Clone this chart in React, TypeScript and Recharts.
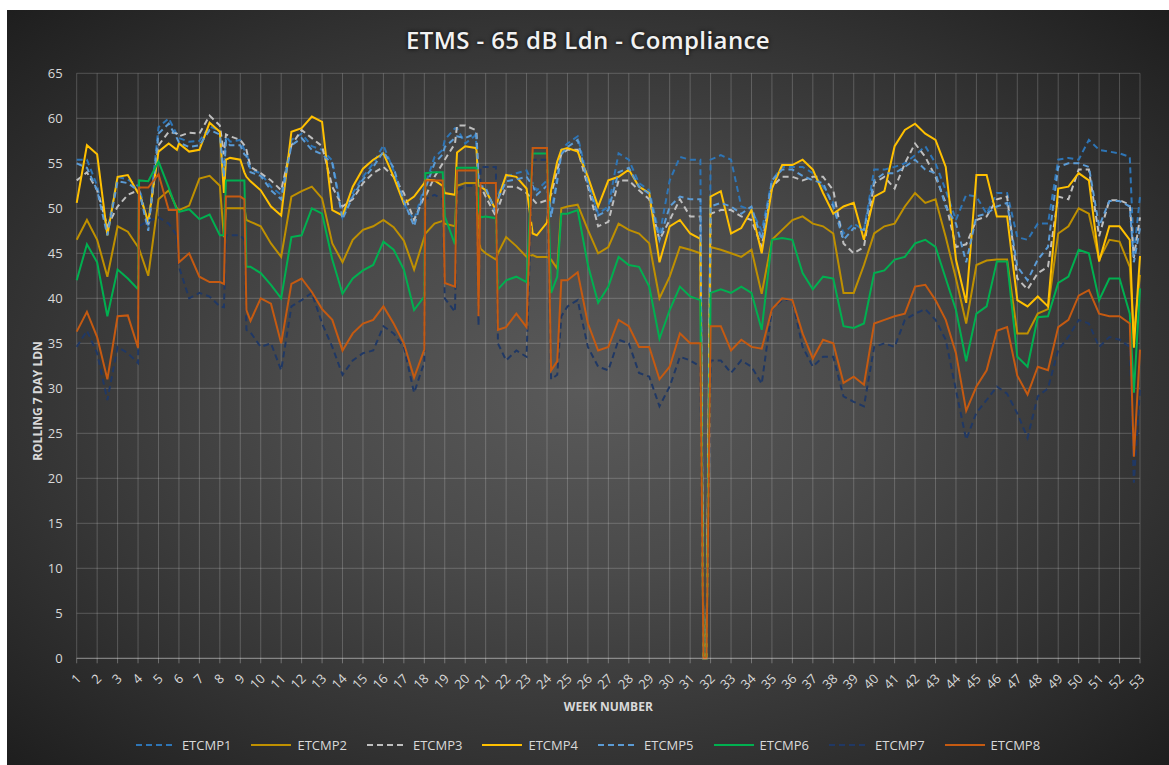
import React from 'react';
import { LineChart, Line, XAxis, YAxis, CartesianGrid } from 'recharts';

const weeks = [
  1, 1.5, 2, 2.5, 3, 3.5, 4, 4.05, 4.5, 5, 5.5, 5.9, 6, 6.5, 7, 7.5, 8, 8.2, 8.3, 8.5, 9, 9.2, 9.3, 9.5, 10, 10.5, 11, 11.5, 12, 12.5, 13,
  13.5, 14, 14.5, 15, 15.5, 16, 16.5, 17, 17.5, 18, 18.05, 18.5, 18.9, 19, 19.5, 19.6, 20, 20.5, 20.55, 20.65,
  20.75, 21, 21.5, 21.6, 22, 22.5, 23, 23.3, 23.5, 24, 24.2, 24.5, 24.7, 25, 25.5, 26,
  26.5, 27, 27.5, 28, 28.5, 29, 29.5, 30, 30.5, 31, 31.5,
  31.65, 31.8,
  32, 32.5, 33, 33.5, 34, 34.5, 35, 35.5, 36, 36.5, 37, 37.5, 38, 38.5, 39, 39.5, 40, 40.5, 41, 41.5,
  42, 42.5, 43, 43.5, 44, 44.5, 45, 45.5, 46, 46.5, 47, 47.5, 48, 48.5, 49, 49.5, 50, 50.5, 51, 51.5, 52, 52.5,
  52.7, 53,
];

const etcmp1 = [
  55.4, 55.4, 52.5, 47.5, 53.5, 53.2, 52.5, 52.5, 48, 59, 60, 58.2, 57.8, 57.4, 57.5, 59.1, 58.6, 54, 58, 57.4, 57.6, 56.5, 56.3, 54.3, 53.9, 52.4, 51.5, 57.6, 58.3, 56.9, 56.5,
  55.3, 49, 51.7, 53.5, 55, 57, 54.2, 50.5, 48.7, 52.4, 52.6, 55.7, 56.5, 57.6, 58.9, 58.9, 57.2, 58.1, 57, 53,
  52.5, 52, 49.8, 51.5, 53.5, 53.9, 54.2, 52.8, 52, 53.1, 49.5, 53.5, 56.5, 57.2, 58, 53.1,
  49.4, 50.2, 56.1, 55.4, 52.8, 52, 47, 53.1, 55.7, 55.4, 55.4,
  0, 0,
  55.4, 55.9, 55.4, 50.2, 49.8, 47.5, 53.1, 54.6, 54.6, 54.6, 53.9, 52.4, 50.6, 47.2, 48.3, 47.6, 54.3, 54.3, 54.6, 55,
  55.9, 56.9, 55, 52, 48.7, 51.5, 51.3, 49.4, 51.7, 51.7, 46.8, 46.5, 48.3, 48.3, 55.4, 55.6, 55.4, 57.6, 56.5, 56.3, 56.1, 55.7,
  44.8, 51.3,
];

const etcmp2 = [
  46.5, 48.7, 46.5, 42.4, 48, 47.4, 45.7, 45.5, 42.5, 51, 52, 50, 49.8, 50.3, 53.3, 53.6, 52.5, 46.8, 50, 50, 50, 50, 48.7, 48.5, 48, 46.1, 44.6, 51.3, 51.9, 52.4, 51.1,
  46.1, 44, 46.5, 47.6, 48, 48.7, 47.9, 46.4, 43.2, 46.8, 47.2, 48.3, 48.6, 48.3, 48, 52.5, 52.8, 52.8, 52.8, 47,
  45.5, 45, 44.3, 45, 46.8, 45.8, 44.6, 44.8, 44.6, 44.6, 44.3, 43.3, 50, 50.2, 50.4, 47.6,
  45, 45.7, 48.3, 47.6, 47.2, 46.1, 40, 42.4, 45.7, 45.4, 45,
  0, 0,
  45.7, 45.4, 45, 44.6, 45.4, 40.5, 46.5, 47.6, 48.7, 49.1, 48.3, 48, 47.2, 40.6, 40.6, 43.7, 47.2, 48, 48.3, 50.2,
  51.7, 50.6, 51, 46.8, 42.2, 37.2, 43.7, 44.2, 44.3, 44.3, 36.1, 36.1, 38.3, 38.8, 47.2, 48, 50, 49.4, 44.3, 46.5, 46.3, 43.5,
  36, 42.6,
];

const etcmp3 = [
  53.1, 54, 52, 48, 50.2, 51.5, 52, 52, 48, 57, 58.5, 58.3, 58, 58.4, 58.3, 60.3, 59.2, 56, 58.2, 58, 57.6, 57, 56.5, 54.6, 53.9, 53.1, 52, 57, 58.7, 57.8, 56.9,
  52.4, 50.2, 51, 52.8, 53.9, 54.6, 53.5, 51.7, 48.7, 51.3, 51.3, 53.5, 55, 55.4, 57.2, 59.2, 59.2, 58.7, 58.5, 53,
  52.5, 51.3, 49.1, 50, 52.4, 52.4, 51.7, 51, 50.5, 50.9, 51.5, 54.2, 56, 56.5, 56.5, 52.4,
  48, 48.5, 53.1, 53.1, 52, 51, 46.5, 48.7, 51, 49.1, 49.1,
  0, 0,
  49.4, 49.8, 49.8, 49.1, 48.7, 45.7, 52.4, 53.5, 53.5, 53.1, 53.5, 53.5, 52, 46.1, 45, 45.7, 52.8, 53.5, 52.2, 55,
  57.2, 55.7, 53.5, 50.6, 45.7, 46, 48.7, 49.1, 51, 51.3, 42.2, 41, 42.8, 43.5, 51.3, 51, 54.3, 54.3, 46.9, 50.9, 50.9, 50.4,
  44.5, 49,
];

const etcmp4 = [
  50.6, 57, 56, 47, 53.5, 53.7, 51.7, 51.7, 48.5, 56.3, 57.2, 56.5, 57.2, 56.3, 56.5, 59.5, 58.5, 51.7, 55.4, 55.6, 55.4, 54, 53.5, 53, 52, 50.2, 49.2, 58.5, 58.9, 60.2, 59.6,
  49.8, 49.2, 52.4, 54.4, 55.4, 56.1, 53.5, 50.5, 51.3, 52.8, 53.2, 53.1, 52.5, 51.7, 51.5, 56.2, 56.9, 56.7, 56.5, 52.5,
  52.4, 52, 49.8, 51, 53.7, 53.5, 52.2, 47.2, 47, 48.4, 52, 55.2, 56.5, 56.7, 56.3, 53.5,
  50.2, 53.1, 53.5, 54.3, 52.4, 51.7, 44, 48, 48.7, 47.2, 46.6,
  0, 0,
  51.3, 51.9, 47.2, 47.8, 49.8, 45, 52.2, 54.8, 54.8, 55.4, 54.3, 51.7, 49.4, 50.2, 50.6, 46.5, 51.3, 51.9, 56.9, 58.7,
  59.4, 58.3, 57.6, 54.6, 44.3, 39.5, 53.7, 53.7, 49.1, 49.1, 39.8, 39.1, 40.2, 39.1, 52.2, 52.4, 53.9, 53.1, 44.1, 48, 48, 46.5,
  34.5, 44.7,
];

const etcmp5 = [
  55, 54.5, 52, 47, 53, 52.8, 52, 52, 47.5, 58.3, 59.4, 57.8, 57.3, 56.8, 57, 58.7, 58.2, 53.5, 57.5, 57, 57, 56, 55.8, 54, 53.6, 52, 51, 57, 57.8, 56.5, 56,
  55, 48.8, 51.3, 53.2, 54.6, 56.3, 54.5, 50.8, 48, 52, 52.2, 55, 56, 56.8, 57.8, 58, 57.8, 58.3, 58, 53,
  52.5, 52.3, 49.5, 51, 53, 53.2, 53.5, 52.5, 51.5, 52.5, 49, 53, 56, 56.8, 57.6, 52.7,
  49.2, 49.8, 54, 54.5, 52.4, 51.6, 46.5, 50.2, 51.3, 51, 51,
  0, 0,
  50.2, 50.6, 50.2, 49.4, 50.2, 46.5, 53.1, 54.3, 54.3, 53.6, 53.1, 52.8, 50.2, 46.5, 47.8, 47.6, 53.1, 53.9, 53.9, 54.6,
  55.4, 54.3, 53.9, 50.2, 48.3, 44, 49.1, 49.4, 50.2, 50.6, 43.5, 42, 44.3, 45.7, 54.6, 55, 55, 54.6, 48, 50.8, 50.8, 50.2,
  44, 47.8,
];

const etcmp6 = [
  42, 46, 44, 38, 43.2, 42.2, 41, 53.1, 53, 55.2, 52.3, 49.8, 49.6, 49.9, 48.8, 49.3, 47, 47, 53.1, 53.1, 53.1, 53.1, 43.5, 43.5, 42.8, 41.5, 40, 46.8, 47, 50, 49.4,
  44.3, 40.5, 42.2, 43.1, 43.7, 46.3, 45.4, 43.2, 38.7, 40.2, 53.9, 54, 54, 49.1, 46, 54.5, 54.5, 54.5, 54.5, 50,
  49, 49.1, 48.9, 41, 42, 42.4, 41.8, 56.1, 56.1, 56.1, 40.6, 42.4, 49.4, 49.4, 49.8, 43.7,
  39.5, 41.3, 44.6, 43.7, 43.5, 41.3, 35.5, 38.7, 41.3, 40.2, 39.8,
  0, 0,
  40.6, 41, 40.6, 41.3, 40.6, 36.5, 46.5, 46.7, 46.5, 42.8, 41, 42.4, 42.2, 36.9, 36.7, 37.2, 42.8, 43.1, 44.3, 44.6,
  46.1, 46.5, 45.7, 42.2, 38.7, 33, 38.3, 39.1, 44.1, 44.1, 33.5, 32.4, 37.9, 38, 41.7, 42.4, 45.4, 45, 39.8, 42.2, 42.2, 38.3,
  29.5, 41.1,
];

const etcmp7 = [
  34.6, 36.4, 33.9, 28.7, 34.6, 33.9, 32.8, 48, 48.6, 49, 48.3, 47, 43.5, 40, 40.6, 40.2, 39.1, 39, 47, 47, 47, 46.5, 36.5, 36.2, 34.6, 35, 32, 39.1, 39.8, 40.6, 37.2,
  34.6, 31.5, 33.1, 33.9, 34.2, 36.9, 36.1, 34.6, 29.5, 32.9, 51, 51.5, 51, 40, 38.5, 52, 52.5, 52.5, 52.5, 37,
  54.6, 54.6, 54.6, 35, 33.1, 34.2, 33.5, 55.4, 55.4, 55.4, 31, 31.5, 38, 39.1, 39.8, 34.6,
  32.4, 32, 35.4, 35, 31.7, 31.3, 28, 30.2, 33.5, 33.1, 32.4,
  0, 0,
  33.1, 33.1, 31.7, 33.1, 32.4, 30.5, 38.8, 39.8, 39.8, 34.6, 32.4, 33.5, 33.5, 29.1, 28.5, 28, 34.6, 35, 34.6, 37.6,
  38.3, 38.8, 37.6, 35.4, 29.8, 24.3, 27.3, 28.7, 30.2, 29.4, 27.2, 24.5, 29.1, 30, 34.3, 35.7, 37.6, 37.2, 34.6, 35.7, 35.4, 34.6,
  19.5, 30,
];

const etcmp8 = [
  36.3, 38.5, 35.7, 31, 38, 38.1, 34.5, 52.3, 52.3, 53.8, 49.8, 49.8, 44, 45, 42.4, 41.8, 41.8, 41.6, 51.3, 51.3, 51.3, 51, 38.7, 37.5, 40, 39.4, 35, 41.6, 42.2, 40.7, 38.8,
  37.6, 34.2, 36.1, 37.2, 37.6, 39.1, 37.2, 35, 31.2, 34.3, 53.1, 53.1, 53.1, 41.7, 41.3, 54.2, 54.2, 54.2, 54.2, 38,
  52.8, 52.8, 52.8, 36.5, 36.8, 38.3, 36.8, 56.7, 56.7, 56.7, 32, 33, 42, 42, 42.9, 37.2,
  34.2, 34.6, 37.6, 36.9, 34.6, 34.6, 31, 32.4, 36.1, 35, 35,
  0, 0,
  36.9, 36.9, 34.2, 35.4, 34.6, 34.4, 38.8, 40, 39.8, 36.1, 33.3, 35.4, 35, 30.6, 31.3, 30.4, 37.2, 37.6, 38, 38.3,
  41.3, 41.5, 39.8, 37.6, 33.9, 27.5, 30.2, 32, 36.4, 36.8, 31.4, 29.3, 32.4, 32, 36.8, 37.6, 40.3, 40.9, 38.3, 38, 38, 37.2,
  22.4, 34.3,
];

const weekTicks = [
  1, 2, 3, 4, 5, 6, 7, 8, 9, 10, 11, 12, 13, 14, 15, 16, 17, 18, 19, 20, 21, 22, 23, 24, 25, 26, 27,
  28, 29, 30, 31, 32, 33, 34, 35, 36, 37, 38, 39, 40, 41, 42, 43, 44, 45, 46, 47, 48, 49, 50, 51, 52, 53,
];
const yTicks = [0, 5, 10, 15, 20, 25, 30, 35, 40, 45, 50, 55, 60, 65];

const seriesNames = ['ETCMP1', 'ETCMP2', 'ETCMP3', 'ETCMP4', 'ETCMP5', 'ETCMP6', 'ETCMP7', 'ETCMP8'];
const seriesValues = [etcmp1, etcmp2, etcmp3, etcmp4, etcmp5, etcmp6, etcmp7, etcmp8];
const seriesColors = ['#2E75B6', '#BF9000', '#BFBFBF', '#FFC000', '#5B9BD5', '#00B050', '#203864', '#C55A11'];
const seriesDashed = [true, false, true, false, true, false, true, false];

const data = weeks.map((w, i) => {
  const row: Record<string, number> = { week: w };
  seriesNames.forEach((name, k) => {
    row[name] = seriesValues[k][i];
  });
  return row;
});

const FONT = "'Open Sans', 'Noto Sans', sans-serif";
const TEXT = '#d9d9d9';

const WeekTick = (props: any) => {
  const { x, y, payload } = props;
  return (
    <text
      x={0}
      y={0}
      dy="0.35em"
      textAnchor="end"
      transform={`translate(${x + 2},${y + 11}) rotate(-45)`}
      fill={TEXT}
      fontSize={13}
      fontFamily={FONT}
    >
      {payload.value}
    </text>
  );
};

export default function App() {
  return (
    <div
      style={{
        position: 'absolute',
        left: 7,
        top: 10,
        width: 1162,
        height: 755,
        overflow: 'hidden',
        background:
          'radial-gradient(ellipse at 50% 50%, #5a5a5a 0%, #4a4a4a 35%, #333333 70%, #1e1e1e 100%)',
        fontFamily: FONT,
      }}
    >
      <div
        style={{
          position: 'absolute',
          left: 0,
          top: 15,
          width: '100%',
          textAlign: 'center',
          color: '#f2f2f2',
          fontSize: 24,
          fontWeight: 600,
          letterSpacing: 0.4,
          lineHeight: '30px',
          textShadow: '0 0 4px rgba(0,0,0,0.9)',
        }}
      >
        ETMS - 65 dB Ldn - Compliance
      </div>
      <LineChart
        width={1162}
        height={755}
        data={data}
        margin={{ top: 63.3, right: 29, bottom: 66.7, left: 9.7 }}
      >
        <CartesianGrid stroke="rgba(255,255,255,0.2)" strokeWidth={1} />
        <XAxis
          dataKey="week"
          type="number"
          domain={[1, 53]}
          ticks={weekTicks}
          interval={0}
          height={40}
          tick={<WeekTick />}
          tickSize={5}
          tickLine={{ stroke: 'rgba(255,255,255,0.3)' }}
          axisLine={{ stroke: 'rgba(255,255,255,0.35)' }}
        />
        <YAxis
          type="number"
          domain={[0, 65]}
          ticks={yTicks}
          interval={0}
          width={60}
          tickLine={false}
          axisLine={false}
          tick={{ fill: TEXT, fontSize: 13, fontFamily: FONT }}
          tickMargin={8}
        />
        {seriesNames.map((name, k) => (
          <Line
            key={name}
            dataKey={name}
            type="linear"
            stroke={seriesColors[k]}
            strokeWidth={2}
            strokeDasharray={seriesDashed[k] ? '6 4' : undefined}
            dot={false}
            activeDot={false}
            isAnimationActive={false}
          />
        ))}
      </LineChart>
      <div
        style={{
          position: 'absolute',
          left: 29.5,
          top: 391,
          width: 0,
          height: 0,
        }}
      >
        <div
          style={{
            position: 'absolute',
            transform: 'translate(-50%, -50%) rotate(-90deg)',
            whiteSpace: 'nowrap',
            color: TEXT,
            fontSize: 12,
            fontWeight: 700,
          }}
        >
          ROLLING 7 DAY LDN
        </div>
      </div>
      <div
        style={{
          position: 'absolute',
          left: 69.7,
          width: 1063.3,
          top: 688,
          textAlign: 'center',
          color: TEXT,
          fontSize: 12,
          fontWeight: 700,
        }}
      >
        WEEK NUMBER
      </div>
      <div
        style={{
          position: 'absolute',
          left: 0,
          width: '100%',
          top: 726,
          display: 'flex',
          justifyContent: 'center',
          gap: 20,
        }}
      >
        {seriesNames.map((name, k) => (
          <div key={name} style={{ display: 'flex', alignItems: 'center', gap: 6 }}>
            <svg width={40} height={10}>
              <line
                x1={0}
                y1={5}
                x2={40}
                y2={5}
                stroke={seriesColors[k]}
                strokeWidth={2}
                strokeDasharray={seriesDashed[k] ? '6 4' : undefined}
              />
            </svg>
            <span style={{ color: TEXT, fontSize: 13 }}>{name}</span>
          </div>
        ))}
      </div>
    </div>
  );
}
